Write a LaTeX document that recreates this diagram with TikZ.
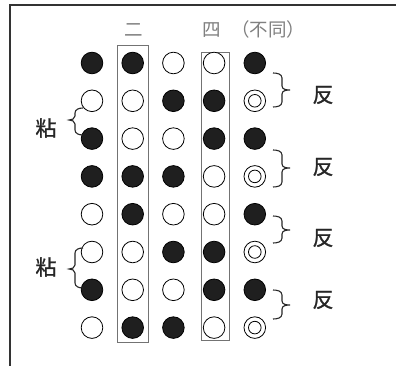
\documentclass[tikz,border=0pt]{standalone}
\usepackage{fontspec}
\newfontfamily\cjk{Noto Sans CJK JP}
\newfontfamily\cjkm{Noto Sans CJK JP}[FakeBold=1.2]
\newcommand\myRB[3]{\draw[brc] (273,#1) to[out=0,in=90] (282,#1+5) -- (282,#2-4) to[out=-90,in=180] (290,#2) to[out=180,in=90] (282,#2+4) -- (282,#3-5) to[out=-90,in=0] (273,#3);}
\newcommand\myLB[3]{\draw[brc] (83,#1) to[out=180,in=90] (75,#1+5) -- (75,#2-4) to[out=-90,in=0] (69,#2) to[out=0,in=90] (75,#2+4) -- (75,#3-5) to[out=-90,in=180] (83,#3);}
\begin{document}
\begin{tikzpicture}[x=1pt,y=-1pt,
  dot/.style={circle,draw=black,line width=0.8pt,minimum size=21.6pt,inner sep=0pt},
  cB/.style={dot,fill=black!88},
  cW/.style={dot,fill=white},
  cD/.style={dot,fill=white,path picture={\draw[line width=0.8pt] (path picture bounding box.center) circle (6.3pt);}},
  colbox/.style={draw=black!55,line width=0.9pt},
  brc/.style={draw=black!85,line width=1.1pt},
  lab/.style={font=\cjkm\fontsize{21}{21}\selectfont,text=black!85,inner sep=0pt},
  head/.style={font=\cjk\fontsize{18.5}{18.5}\selectfont,text=black!50,inner sep=0pt}]
\useasboundingbox (0,0) rectangle (396,366);
\draw[line width=1.8pt,black!80] (396,5) -- (10,5) -- (10,366);
% column boxes
\draw[colbox] (117,45) rectangle (148,342);
\draw[colbox] (201,52) rectangle (229,340);
% headers
\node[head] (h2) at (134,30) {二};
\node[head] (h4) at (212,30) {四};
\node[head] (h4b) at (268,29) {（不同）};
% circles
\foreach \r/\a/\b/\c/\d/\e in {1/cB/cB/cW/cW/cB, 2/cW/cW/cB/cB/cD, 3/cB/cW/cW/cB/cB, 4/cB/cB/cB/cW/cD, 5/cW/cB/cW/cW/cB, 6/cW/cW/cB/cB/cD, 7/cB/cW/cW/cB/cB, 8/cW/cB/cB/cW/cD}{
  \foreach \k/\s in {1/\a,2/\b,3/\c,4/\d,5/\e}{
    \node[\s] (c\r-\k) at ({92+(\k-1)*40.7},{63+(\r-1)*37.8}) {};
  }
}
% right braces
\myRB{73}{90}{107}
\myRB{150}{168}{187}
\myRB{216}{230}{243}
\myRB{290}{305}{319}
\node[lab] (f1) at (323,95) {反};
\node[lab] (f2) at (323,167) {反};
\node[lab] (f3) at (323,238) {反};
\node[lab] (f4) at (323,300) {反};
% left braces
\myLB{108}{120}{135}
\myLB{248}{269}{288}
\node[lab] (n1) at (46,128) {粘};
\node[lab] (n2) at (46,267) {粘};
\end{tikzpicture}
\end{document}
